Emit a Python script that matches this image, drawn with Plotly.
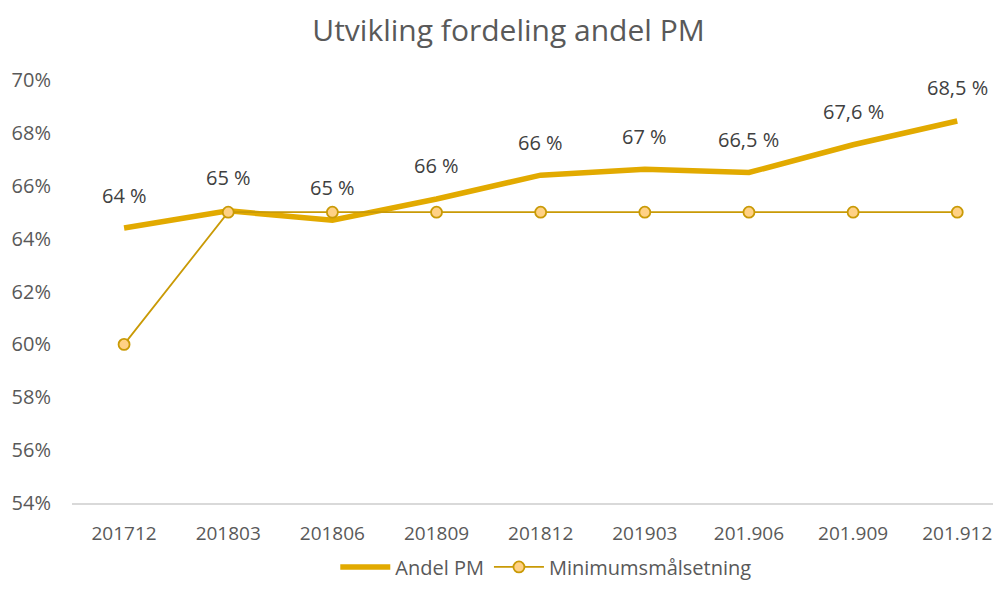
import plotly.graph_objects as go

perioder = ['201712', '201803', '201806', '201809', '201812', '201903', '201.906', '201.909', '201.912']
andel_pm = [64.4, 65.05, 64.7, 65.5, 66.4, 66.62, 66.5, 67.55, 68.45]
andel_pm_tekst = ['64 %', '65 %', '65 %', '66 %', '66 %', '67 %', '66,5 %', '67,6 %', '68,5 %']
minimum = [60, 65, 65, 65, 65, 65, 65, 65, 65]

font = 'Open Sans'

fig = go.Figure()
fig.add_trace(go.Scatter(
    x=perioder, y=andel_pm, name='Andel PM', mode='lines',
    line=dict(color='#E2AA00', width=5.5)))
fig.add_trace(go.Scatter(
    x=perioder, y=minimum, name='Minimumsmålsetning', mode='lines+markers',
    line=dict(color='#C99A06', width=1.8),
    marker=dict(size=11, color='#FFD185', line=dict(color='#C99A06', width=1.8))))

# data labels above Andel PM (category index, since labels look numeric)
for i, (v, t) in enumerate(zip(andel_pm, andel_pm_tekst)):
    fig.add_annotation(x=i, y=v, text=t, showarrow=False, yshift=33,
                       font=dict(family=font, size=20, color='#404040'))

# page has an 8px body margin, so margins are trimmed by 8
fig.update_layout(
    width=1001, height=601,
    title=dict(text='Utvikling fordeling andel PM', x=0.5, xanchor='center', y=0.963, yanchor='middle',
               font=dict(family=font, size=30, color='#595959')),
    plot_bgcolor='white', paper_bgcolor='white',
    margin=dict(l=64, r=8, t=72, b=106),
    showlegend=True,
    legend=dict(orientation='h', x=0.51, xanchor='center', y=-0.105, yanchor='top',
                itemwidth=50,
                font=dict(family=font, size=20, color='#595959')),
    xaxis=dict(type='category', range=[-0.5, 8.42], showgrid=False, showline=True,
               linecolor='#D9D9D9', linewidth=1.5, ticks='', ticklabelstandoff=12,
               automargin=False,
               tickfont=dict(family=font, size=19, color='#595959')),
    yaxis=dict(range=[54, 70], dtick=2, showgrid=False, zeroline=False,
               ticksuffix='%', ticklabelstandoff=20, automargin=False,
               tickfont=dict(family=font, size=20, color='#595959')),
)

fig.write_html('out.html')
